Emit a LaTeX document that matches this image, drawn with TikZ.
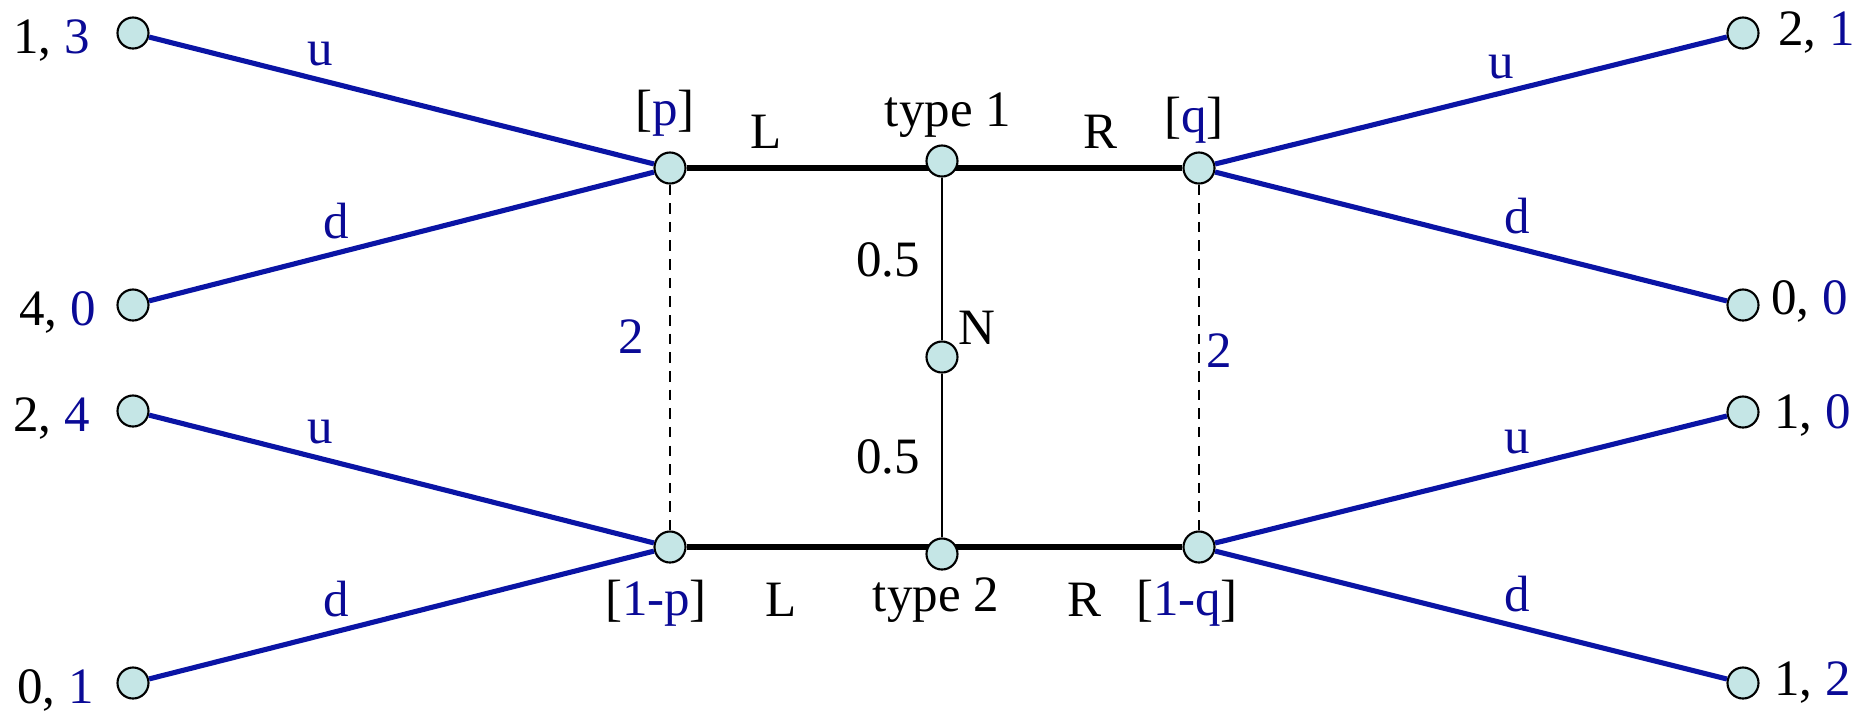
\documentclass[tikz,border=0pt]{standalone}
\usepackage{fontspec}
\setmainfont{Liberation Serif}
\usetikzlibrary{positioning}
\definecolor{edgeblue}{RGB}{10,20,165}
\definecolor{textblue}{RGB}{10,10,150}
\definecolor{dotfill}{RGB}{197,230,230}
\newcommand{\bl}[1]{\textcolor{textblue}{#1}}

\begin{document}
\begin{tikzpicture}[x=0.01cm, y=-0.01cm,
  every node/.style={font=\fontsize{14.5}{17}\selectfont},
  dot/.style={circle, draw=black, fill=dotfill, line width=0.6pt, minimum size=0.31cm, inner sep=0pt},
  branch/.style={edgeblue, line width=1.45pt},
  strat/.style={line width=1.6pt},
  chance/.style={line width=0.5pt},
  info/.style={line width=0.5pt, dash pattern=on 3pt off 2.3pt},
  pay/.style={inner sep=0pt}]
\useasboundingbox (0,0) rectangle (1856,717);
% Information set nodes
\node[dot] (p) at (670,168) {};
\node[dot] (q) at (1199,168) {};
\node[dot] (mp) at (670,547) {};
\node[dot] (mq) at (1199,547) {};
% Player 1 moves
\draw[strat] (p) -- (q);
\draw[strat] (mp) -- (mq);
% Type nodes and nature
\node[dot] (t1) at (942,161) {};
\node[dot] (n) at (942,357) {};
\node[dot] (t2) at (942,554) {};
\draw[chance] (t1) -- (n) -- (t2);
\draw[info] (p) -- (mp);
\draw[info] (q) -- (mq);
% Terminal nodes
\node[dot] (a1) at (133,33) {};
\node[dot] (a2) at (133,305) {};
\node[dot] (a3) at (133,411) {};
\node[dot] (a4) at (133,683) {};
\node[dot] (b1) at (1743,33) {};
\node[dot] (b2) at (1743,305) {};
\node[dot] (b3) at (1743,412) {};
\node[dot] (b4) at (1743,683) {};
% Payoffs
\node[pay, left=0.26cm of a1, yshift=-2pt] (pa1) {1, \bl{3}};
\node[pay, left=0.2cm of a2, yshift=-2pt] (pa2) {4, \bl{0}};
\node[pay, left=0.26cm of a3, yshift=-2pt] (pa3) {2, \bl{4}};
\node[pay, left=0.22cm of a4, yshift=-2pt] (pa4) {0, \bl{1}};
\node[pay, right=0.18cm of b1] (pb1) {2, \bl{1}};
\node[pay, right=0.11cm of b2, yshift=1pt] (pb2) {0, \bl{0}};
\node[pay, right=0.14cm of b3, yshift=-1pt] (pb3) {1, \bl{0}};
\node[pay, right=0.14cm of b4] (pb4) {1, \bl{2}};
% Player 2 moves
\draw[branch] (p) -- node[above, pos=0.66, text=textblue] {u} (a1);
\draw[branch] (p) -- node[above, pos=0.63, text=textblue] {d} (a2);
\draw[branch] (mp) -- node[above, pos=0.66, text=textblue] {u} (a3);
\draw[branch] (mp) -- node[above, pos=0.63, text=textblue] {d} (a4);
\draw[branch] (q) -- node[above, pos=0.56, text=textblue] {u} (b1);
\draw[branch] (q) -- node[above, pos=0.59, text=textblue] {d} (b2);
\draw[branch] (mq) -- node[above, pos=0.59, text=textblue] {u} (b3);
\draw[branch] (mq) -- node[above, pos=0.59, text=textblue] {d} (b4);
% Labels
\node (lp) at (665,113) {[\bl{p}]};
\node (lq) at (1194,120) {[\bl{q}]};
\node (lmp) at (656,603) {[\bl{1-p}]};
\node (lmq) at (1187,603) {[\bl{1-q}]};
\node (lt1) at (948,115) {type 1};
\node (lt2) at (936,600) {type 2};
\node (l1) at (766,132) {L};
\node (r1) at (1100,132) {R};
\node (l2) at (781,600) {L};
\node (r2) at (1085,600) {R};
\node (h1) at (888,260) {0.5};
\node (h2) at (888,457) {0.5};
\node (ln) at (977,328) {N};
\node[text=textblue] (dl) at (631,337) {2};
\node[text=textblue] (dr) at (1219,351) {2};
\end{tikzpicture}
\end{document}
